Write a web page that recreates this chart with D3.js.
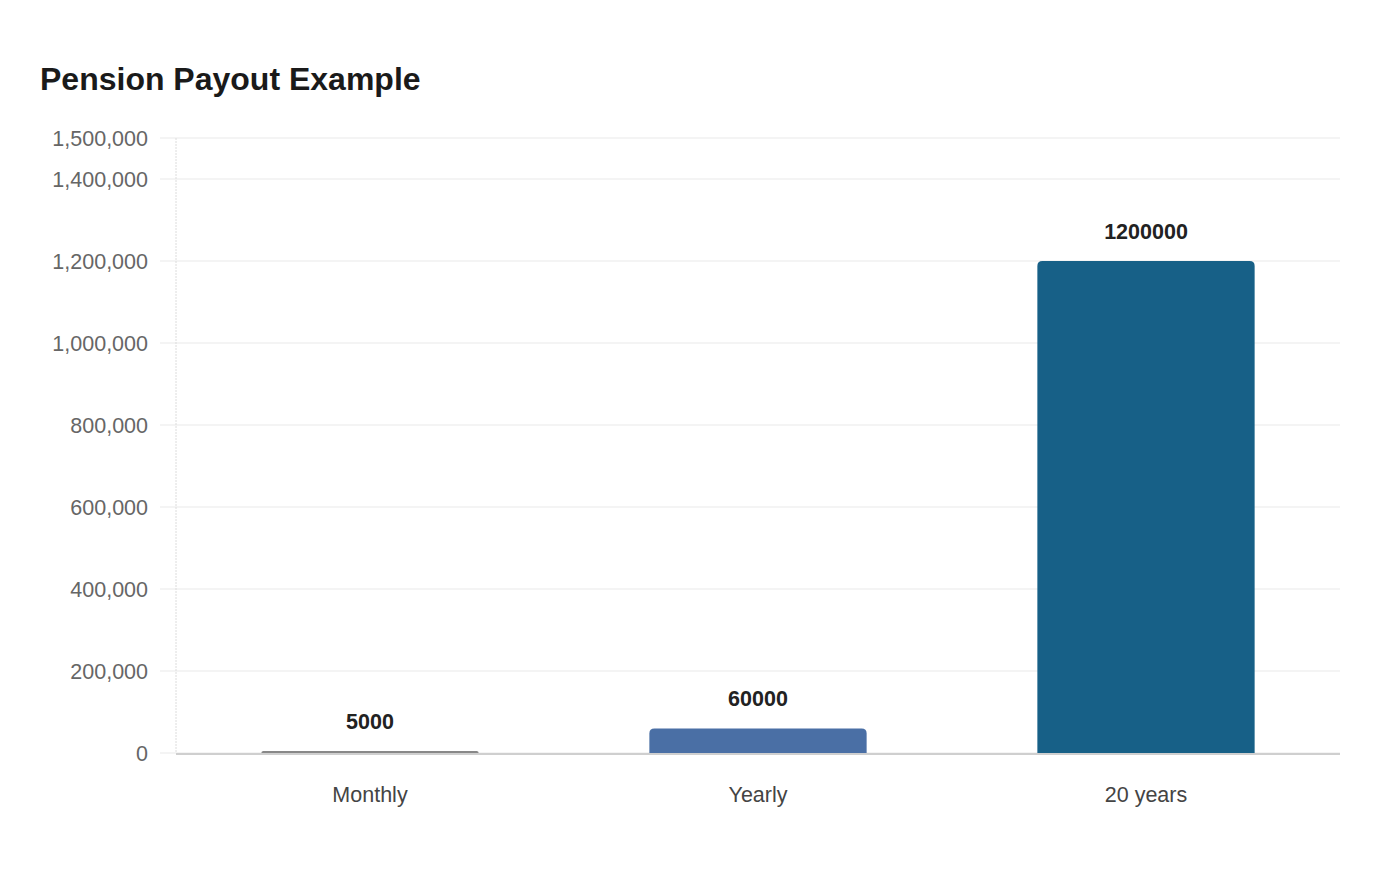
<!DOCTYPE html>
<html lang="en">
<head>
  <meta charset="UTF-8">
  <title>Pension Payout Example</title>
  <script src="https://d3js.org/d3.v7.min.js"></script>
  <style>
    html, body { margin: 0; padding: 0; background: #fff; }
    svg { display: block; font-family: "Liberation Sans", Arial, sans-serif; }
    .grid line { stroke: #e9e9e9; stroke-width: 1px; }
    .tick-label { fill: #666; font-size: 21.5px; }
    .cat-label { fill: #444; font-size: 21.5px; }
    .value-label { fill: #222; font-size: 21.5px; font-weight: 700; }
  </style>
</head>
<body>
  <svg id="chart" width="1400" height="880"></svg>
  <script>
  // data
  const categories = ["Monthly", "Yearly", "20 years"];
  const values = [5000, 60000, 1200000];
  const barColors = ["#888888", "#4a6fa5", "#176087"];
  const yTicks = [0, 200000, 400000, 600000, 800000, 1000000, 1200000, 1400000, 1500000];

  const svg = d3.select("#chart");
  const margin = { top: 138, right: 60, bottom: 127, left: 176 };
  const width = 1400 - margin.left - margin.right;
  const height = 880 - margin.top - margin.bottom;

  svg.append("text")
    .attr("x", 40)
    .attr("y", 90)
    .attr("font-size", 32)
    .attr("font-weight", 700)
    .attr("fill", "#1a1a1a")
    .text("Pension Payout Example");

  const g = svg.append("g").attr("transform", `translate(${margin.left},${margin.top})`);

  const x = d3.scaleBand().domain(categories).range([0, width]).paddingInner(0.44).paddingOuter(0.22);
  const y = d3.scaleLinear().domain([0, 1500000]).range([height, 0]);

  // gridlines
  g.append("g").attr("class", "grid")
    .selectAll("line")
    .data(yTicks)
    .join("line")
    .attr("x1", -16).attr("x2", width)
    .attr("y1", d => y(d)).attr("y2", d => y(d));

  // y axis line
  g.append("line")
    .attr("x1", 0).attr("x2", 0)
    .attr("y1", 0).attr("y2", height)
    .attr("stroke", "#dcdcdc")
    .attr("stroke-dasharray", "2,1");

  // y tick labels
  const fmt = d3.format(",");
  g.append("g")
    .selectAll("text")
    .data(yTicks)
    .join("text")
    .attr("class", "tick-label")
    .attr("x", -28)
    .attr("y", d => y(d))
    .attr("dy", "0.35em")
    .attr("text-anchor", "end")
    .text(d => fmt(d));

  // bars with rounded top corners
  function barPath(x0, y0, w, h, r) {
    r = Math.min(r, h, w / 2);
    return `M${x0},${y0 + h}V${y0 + r}Q${x0},${y0} ${x0 + r},${y0}H${x0 + w - r}Q${x0 + w},${y0} ${x0 + w},${y0 + r}V${y0 + h}Z`;
  }

  g.append("g")
    .selectAll("path")
    .data(values)
    .join("path")
    .attr("fill", (d, i) => barColors[i])
    .attr("d", (d, i) => {
      const bx = x(categories[i]);
      const by = y(d);
      return barPath(bx, by, x.bandwidth(), height - by, 5);
    });

  // baseline
  g.append("line")
    .attr("x1", 0).attr("x2", width)
    .attr("y1", height + 1).attr("y2", height + 1)
    .attr("stroke", "#cfcfcf")
    .attr("stroke-width", 2);

  // value labels
  g.append("g")
    .selectAll("text")
    .data(values)
    .join("text")
    .attr("class", "value-label")
    .attr("x", (d, i) => x(categories[i]) + x.bandwidth() / 2)
    .attr("y", d => y(d) - 22)
    .attr("text-anchor", "middle")
    .text(d => d);

  // category labels
  g.append("g")
    .selectAll("text")
    .data(categories)
    .join("text")
    .attr("class", "cat-label")
    .attr("x", d => x(d) + x.bandwidth() / 2)
    .attr("y", height + 49)
    .attr("text-anchor", "middle")
    .text(d => d);
  </script>
</body>
</html>
